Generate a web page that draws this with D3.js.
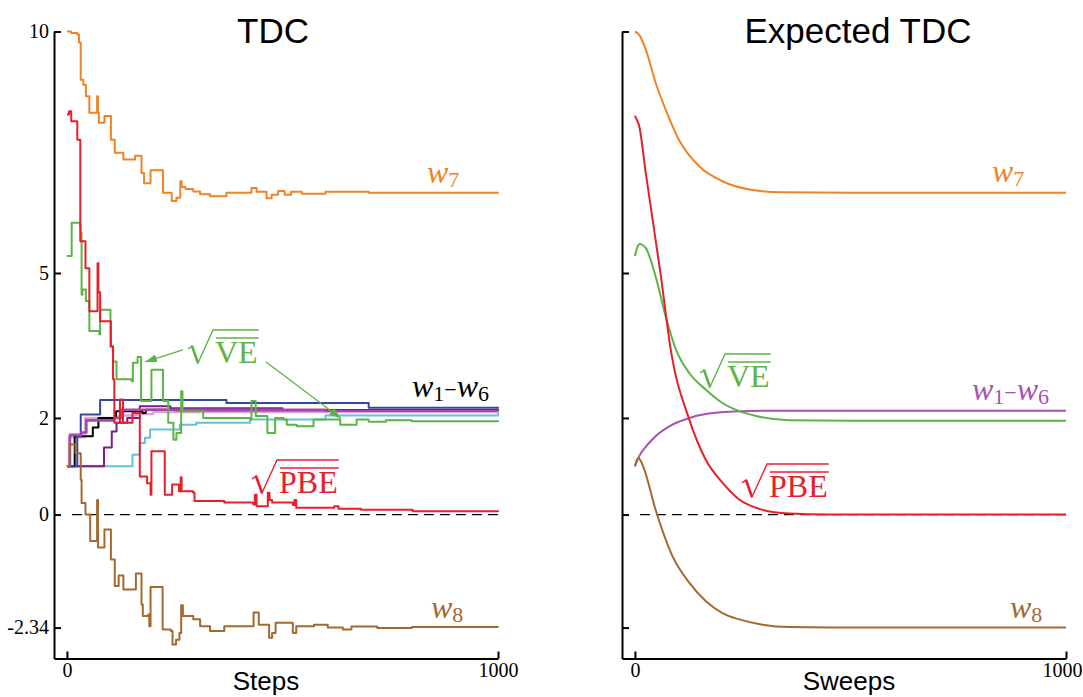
<!DOCTYPE html>
<html>
<head>
<meta charset="utf-8">
<script src="https://cdn.jsdelivr.net/npm/d3@7"></script>
<style>
  body { margin: 0; background: #fff; }
  svg { display: block; }
</style>
</head>
<body>
<svg id="chart"></svg>
<script>
var svgWidth = 1083;
var svgHeight = 697;

// tick values (same for both panels)
var yTicks = [-2.34, 0, 2, 5, 10];
var xTicks = [0, 1000];

// ---- TDC (left panel), [step, value] change points ----
var w7Steps = [[0,10],[10,9.97],[24,9.94],[28,9.77],[32,9.0],[38,8.9],[44,8.66],[52,8.32],[70,8.66],[72,8.32],[74,8.11],[87,8.25],[102,7.76],[111,7.49],[131,7.35],[158,7.43],[173,7.07],[179,6.86],[194,7.13],[223,6.66],[243,6.49],[254,6.56],[263,6.9],[266,6.78],[275,6.74],[293,6.69],[309,6.63],[332,6.59],[370,6.66],[428,6.76],[440,6.68],[463,6.55],[475,6.62],[490,6.7],[505,6.62],[520,6.68],[545,6.64],[600,6.68],[700,6.66],[1000,6.67]];
var w8Steps = [[0,1.0],[6,1.45],[18,1.45],[20,1.27],[30,1.27],[32,0.72],[34,0.24],[43,0.0],[54,-0.55],[70,0.3],[72,-0.68],[87,-0.31],[102,-0.93],[111,-1.48],[120,-1.26],[131,-1.55],[160,-1.22],[173,-1.86],[176,-2.1],[189,-2.07],[191,-2.31],[194,-1.5],[222,-2.38],[241,-2.41],[245,-2.69],[253,-2.59],[261,-2.45],[265,-1.88],[269,-2.1],[293,-2.17],[309,-2.31],[332,-2.41],[365,-2.31],[433,-2.03],[445,-2.28],[469,-2.55],[476,-2.45],[484,-2.24],[516,-2.24],[524,-2.45],[532,-2.31],[573,-2.28],[605,-2.34],[640,-2.38],[660,-2.32],[720,-2.35],[800,-2.33],[1000,-2.34]];
var veSteps = [[0,5.35],[8,5.35],[11,6.04],[30,6.0],[32,5.83],[34,4.55],[36,4.66],[44,4.42],[52,3.8],[75,3.73],[77,4.24],[101,3.48],[107,3.17],[115,2.8],[150,2.76],[153,3.14],[164,3.26],[172,2.35],[196,3.0],[223,2.35],[235,1.9],[247,1.55],[254,1.69],[265,2.55],[268,2.14],[301,2.14],[316,2.0],[425,1.97],[428,2.35],[438,2.04],[456,2.04],[465,1.69],[483,2.0],[502,1.97],[510,1.86],[533,1.83],[572,1.97],[634,1.86],[672,1.97],[700,1.92],[740,1.95],[800,1.93],[1000,1.95]];
var pbeSteps = [[0,8.28],[5,8.35],[10,8.14],[24,7.76],[31,5.66],[43,5.1],[52,4.21],[71,5.2],[73,4.6],[77,4.0],[102,3.48],[107,2.8],[110,1.9],[123,2.38],[130,1.9],[152,2.1],[169,0.79],[186,0.65],[194,0.41],[196,1.31],[227,0.41],[244,0.62],[260,0.48],[264,0.77],[266,0.48],[293,0.45],[296,0.28],[365,0.25],[432,0.21],[436,0.41],[440,0.17],[466,0.45],[470,0.3],[476,0.25],[524,0.2],[528,0.3],[532,0.14],[620,0.17],[630,0.12],[682,0.1],[802,0.07],[1000,0.05]];
var w1Steps = [[0,1.0],[24,1.62],[32,2.07],[77,2.37],[370,2.31],[700,2.21],[1000,2.19]];
var w2Steps = [[0,1.0],[18,1.62],[60,1.8],[73,2.0],[114,2.14],[175,2.1],[183,2.17],[250,2.16],[1000,2.15]];
var w3Steps = [[0,1.0],[7,1.65],[34,1.7],[45,1.95],[110,2.0],[125,2.17],[300,2.17],[600,2.15],[1000,2.14]];
var w4Steps = [[0,1.0],[5,1.6],[42,2.0],[120,2.05],[160,2.08],[200,2.12],[1000,2.12]];
var w5Steps = [[0,1.0],[84,1.0],[86,1.39],[104,1.72],[115,1.9],[140,2.0],[169,2.24],[240,2.2],[500,2.16],[1000,2.14]];
var w6Steps = [[0,1.0],[150,1.0],[152,1.24],[169,1.48],[181,1.59],[193,1.76],[262,1.86],[300,1.9],[425,1.97],[600,2.05],[1000,2.12]];

// ---- Expected TDC (right panel), [sweep, value] ----
var w7Sweeps = [[0,10],[10,9.93],[25,9.63],[48,8.94],[71,8.39],[102,7.76],[149,7.21],[203,6.9],[265,6.73],[342,6.67],[500,6.66],[1000,6.66]];
var pbeSweeps = [[0,8.26],[3,8.2],[10,8.04],[25,7.08],[60,4.95],[83,3.42],[126,1.97],[164,1.14],[203,0.66],[242,0.31],[295,0.1],[358,0.02],[450,0],[1000,0]];
var veSweeps = [[0,5.35],[5,5.52],[11,5.6],[18,5.58],[25,5.52],[48,4.93],[71,4.11],[95,3.42],[126,2.93],[164,2.59],[203,2.31],[242,2.14],[281,2.04],[358,1.95],[500,1.94],[1000,1.94]];
var w16Sweeps = [[0,1.0],[10,1.21],[25,1.4],[48,1.62],[87,1.86],[126,2.0],[164,2.08],[242,2.14],[320,2.15],[1000,2.15]];
var w8Sweeps = [[0,1.0],[4,1.12],[8,1.17],[13,1.12],[21,0.95],[48,0.1],[87,-0.86],[126,-1.41],[164,-1.79],[203,-2.04],[242,-2.17],[296,-2.28],[358,-2.33],[450,-2.34],[1000,-2.34]];

var zeroLine = [[0,0],[1000,0]];

// arrows from the sqrt(VE) label to the green line, [from, to]
var veArrows = [[[269,3.41],[181,3.16]], [[462,3.16],[636,1.99]]];

var orange = "#f08228", red = "#e6202b", green = "#5db446", brown = "#a3692f", violet = "#a752b3";

var svg = d3.select("#chart")
  .attr("width", svgWidth)
  .attr("height", svgHeight);

var defs = svg.append("defs");
defs.append("marker")
  .attr("id", "arrowhead")
  .attr("markerUnits", "userSpaceOnUse")
  .attr("viewBox", "0 0 12 8")
  .attr("refX", 12)
  .attr("refY", 4)
  .attr("markerWidth", 12)
  .attr("markerHeight", 8)
  .attr("orient", "auto")
  .append("path")
  .attr("d", "M0,0L12,4L0,8Z")
  .attr("fill", green);

// y scale shared by both panels
var yScale = d3.scaleLinear().domain([-2.98, 10]).range([658.5, 31.5]);
var xLeft = d3.scaleLinear().domain([-30, 1000]).range([54, 498]);
var xRight = d3.scaleLinear().domain([-30, 1000]).range([622, 1066]);

function drawAxes(xScale, showYLabels) {
  var yAxis = d3.axisLeft(yScale)
    .tickValues(yTicks)
    .tickSizeInner(-7)
    .tickSizeOuter(0)
    .tickPadding(5)
    .tickFormat(d => showYLabels ? String(d) : "");
  var xAxis = d3.axisBottom(xScale)
    .tickValues(xTicks)
    .tickSizeInner(-7)
    .tickSizeOuter(0)
    .tickPadding(4)
    .tickFormat(d => String(d));

  var gy = svg.append("g")
    .attr("transform", `translate(${xScale.range()[0]},0)`)
    .call(yAxis);
  var gx = svg.append("g")
    .attr("transform", `translate(0,${yScale.range()[0]})`)
    .call(xAxis);

  [gx, gy].forEach(function(g) {
    g.attr("font-family", "'Liberation Serif', serif").attr("font-size", 20);
    g.selectAll("path, line").attr("stroke", "#000").attr("stroke-width", 2);
    g.selectAll("text").attr("fill", "#000");
  });

  // keep the last x label inside the page on the right panel
  gx.selectAll("text")
    .filter(d => xScale(d) + 20 > svgWidth)
    .attr("text-anchor", "end")
    .attr("dx", svgWidth - 1 - xScale(1000));
}

function drawZero(xScale) {
  svg.append("path")
    .datum(zeroLine)
    .attr("d", d3.line().x(d => xScale(d[0])).y(d => yScale(d[1])))
    .attr("fill", "none")
    .attr("stroke", "#000")
    .attr("stroke-width", 1.2)
    .attr("stroke-dasharray", "10,6")
    .attr("stroke-dashoffset", 11);
}

function drawLine(xScale, data, color, width, curve) {
  svg.append("path")
    .datum(data)
    .attr("d", d3.line().curve(curve).x(d => xScale(d[0])).y(d => yScale(d[1])))
    .attr("fill", "none")
    .attr("stroke", color)
    .attr("stroke-width", width)
    .attr("stroke-linejoin", "round");
}

// w with subscript, optionally "w_a - w_b"
function wLabel(x, y, subs, color) {
  var t = svg.append("text")
    .attr("x", x)
    .attr("y", y)
    .attr("fill", color)
    .attr("font-family", "'Liberation Serif', serif")
    .attr("font-size", 32);
  subs.forEach(function(s, i) {
    if (i > 0) {
      t.append("tspan").attr("font-size", 22).attr("dy", -4).text("\u2212");
    }
    t.append("tspan").attr("font-style", "italic").attr("dy", i > 0 ? 0 : null).text("w");
    t.append("tspan").attr("font-size", 22).attr("dy", 4).text(s);
  });
}

// sqrt(overline(label)) drawn as radical path + text
function sqrtLabel(x0, y0, label, color) {
  var t = svg.append("text")
    .attr("x", x0 + 27)
    .attr("y", y0)
    .attr("fill", color)
    .attr("font-family", "'Liberation Serif', serif")
    .attr("font-size", 32)
    .text(label);
  var w = t.node().getComputedTextLength();
  svg.append("path")
    .attr("d", `M${x0},${y0 - 14}L${x0 + 4},${y0 - 17}L${x0 + 10},${y0}L${x0 + 25},${y0 - 33}H${x0 + 28 + w}`)
    .attr("fill", "none")
    .attr("stroke", color)
    .attr("stroke-width", 1.4);
  svg.append("path")
    .attr("d", `M${x0 + 4},${y0 - 17}L${x0 + 10},${y0}`)
    .attr("stroke", color)
    .attr("stroke-width", 2.6);
  svg.append("line")
    .attr("x1", x0 + 28).attr("x2", x0 + 28 + w)
    .attr("y1", y0 - 25).attr("y2", y0 - 25)
    .attr("stroke", color)
    .attr("stroke-width", 1.4);
}

// ---------------- left panel: TDC ----------------
drawZero(xLeft);
var step = d3.curveStepAfter;
drawLine(xLeft, w6Steps, "#63c3d6", 2, step);
drawLine(xLeft, w5Steps, "#7d1a8c", 2, step);
drawLine(xLeft, w4Steps, "#dca6dc", 2.4, step);
drawLine(xLeft, w2Steps, "#000000", 2, step);
drawLine(xLeft, w1Steps, "#34489c", 2, step);
drawLine(xLeft, w3Steps, "#a548a8", 2.6, step);
drawLine(xLeft, w8Steps, brown, 2, step);
drawLine(xLeft, w7Steps, orange, 2, step);
drawLine(xLeft, veSteps, green, 2, step);
drawLine(xLeft, pbeSteps, red, 2, step);
drawAxes(xLeft, true);

// arrows
svg.selectAll(".arrow")
  .data(veArrows)
  .enter()
  .append("line")
  .attr("class", "arrow")
  .attr("x1", d => xLeft(d[0][0]))
  .attr("y1", d => yScale(d[0][1]))
  .attr("x2", d => xLeft(d[1][0]))
  .attr("y2", d => yScale(d[1][1]))
  .attr("stroke", green)
  .attr("stroke-width", 1.3)
  .attr("marker-end", "url(#arrowhead)");

wLabel(427, 183, ["7"], orange);
wLabel(431, 618, ["8"], brown);
wLabel(412, 397, ["1", "6"], "#000");
sqrtLabel(188, 363, "VE", green);
sqrtLabel(252, 493, "PBE", red);

svg.append("text")
  .attr("x", 273).attr("y", 43)
  .attr("text-anchor", "middle")
  .attr("font-family", "'Liberation Sans', Arial, sans-serif")
  .attr("font-size", 35)
  .text("TDC");
svg.append("text")
  .attr("x", 266).attr("y", 690)
  .attr("text-anchor", "middle")
  .attr("font-family", "'Liberation Sans', Arial, sans-serif")
  .attr("font-size", 26)
  .text("Steps");

// ---------------- right panel: Expected TDC ----------------
drawZero(xRight);
var smooth = d3.curveMonotoneX;
drawLine(xRight, w16Sweeps, violet, 2, smooth);
drawLine(xRight, w8Sweeps, brown, 2, smooth);
drawLine(xRight, w7Sweeps, orange, 2, smooth);
drawLine(xRight, veSweeps, green, 2, smooth);
drawLine(xRight, pbeSweeps, red, 2, smooth);
drawAxes(xRight, false);

wLabel(992, 182, ["7"], orange);
wLabel(1010, 618, ["8"], brown);
wLabel(972, 400, ["1", "6"], violet);
sqrtLabel(700, 387, "VE", green);
sqrtLabel(742, 497, "PBE", red);

svg.append("text")
  .attr("x", 858).attr("y", 43)
  .attr("text-anchor", "middle")
  .attr("font-family", "'Liberation Sans', Arial, sans-serif")
  .attr("font-size", 35)
  .text("Expected TDC");
svg.append("text")
  .attr("x", 849).attr("y", 690)
  .attr("text-anchor", "middle")
  .attr("font-family", "'Liberation Sans', Arial, sans-serif")
  .attr("font-size", 26)
  .text("Sweeps");
</script>
</body>
</html>
